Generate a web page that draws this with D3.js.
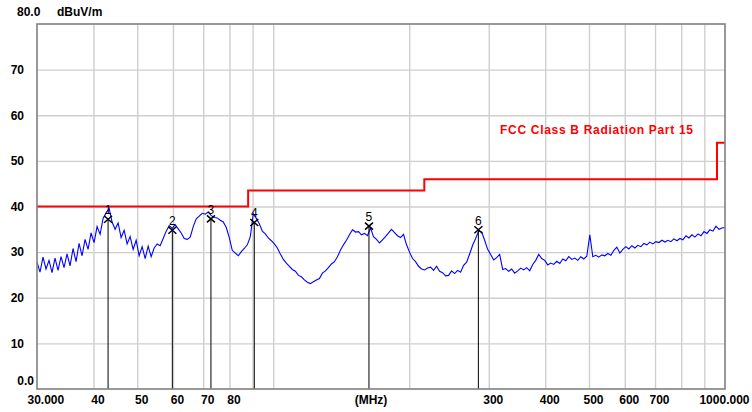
<!DOCTYPE html>
<html>
<head>
<meta charset="utf-8">
<script src="https://cdn.jsdelivr.net/npm/d3@7"></script>
<style>
  body { margin: 0; background: #fff; }
  svg { display: block; font-family: "Liberation Sans", Arial, sans-serif; }
</style>
</head>
<body>
<div id="chart"></div>
<script>
// sweep settings (MHz), points are log spaced by the receiver
const sweepStart = 30;
const sweepStop = 1000;
const levels = [
  27.8, 25.6, 28.9, 26.3, 28.2, 25.5, 28.7, 26.0, 29.0, 26.6,
  29.6, 27.0, 30.8, 27.9, 31.9, 29.2, 32.8, 30.6, 34.2, 32.1,
  35.6, 33.9, 37.4, 38.6, 39.6, 36.6, 35.0, 36.4, 33.2, 34.8,
  31.8, 33.4, 30.6, 32.6, 29.2, 31.2, 28.6, 31.3, 29.0, 30.9,
  31.8, 31.4, 33.0, 34.6, 35.8, 35.2, 36.0, 35.1, 34.2, 33.0,
  32.8, 33.3, 35.6, 37.3, 37.9, 38.5, 38.3, 38.8, 38.0, 37.6,
  37.5, 37.0, 36.6, 35.4, 33.2, 30.4, 29.8, 29.2, 30.1, 30.8,
  31.6, 33.4, 38.4, 37.4, 36.2, 34.6, 34.0, 33.1, 32.5, 31.8,
  30.9, 29.6, 28.4, 27.6, 26.9, 26.2, 25.8, 24.9, 24.6, 23.9,
  23.4, 23.1, 23.5, 23.9, 24.2, 25.4, 25.9, 26.6, 27.4, 27.9,
  29.0, 30.4, 31.6, 32.6, 33.8, 34.9, 34.4, 34.5, 33.8, 34.1,
  33.6, 35.3, 33.4, 32.8, 32.0, 32.7, 33.4, 34.2, 35.0, 34.3,
  33.6, 33.2, 33.9, 31.6, 30.0, 28.6, 27.9, 26.9, 26.3, 26.1,
  26.5, 26.7, 26.0, 26.9, 25.8, 25.5, 24.8, 24.9, 25.9, 25.3,
  26.0, 25.6, 27.1, 27.8, 29.6, 31.5, 33.0, 34.6, 34.4, 32.6,
  30.6, 29.5, 28.3, 28.8, 29.5, 26.2, 26.4, 25.8, 26.3, 25.4,
  25.9, 26.5, 26.1, 26.6, 25.9, 27.3, 28.2, 29.5, 28.6, 28.2,
  27.2, 27.6, 27.3, 28.0, 27.5, 28.5, 28.1, 29.0, 28.4, 28.7,
  28.2, 29.0, 28.5, 29.1, 33.8, 29.0, 29.3, 28.9, 29.4, 29.2,
  29.7, 29.3, 30.4, 31.1, 29.8, 30.6, 31.2, 30.7, 31.4, 30.9,
  31.5, 31.2, 31.9, 31.6, 32.2, 31.8, 32.3, 32.1, 32.6, 32.2,
  32.6, 32.3, 32.9, 32.5, 33.0, 32.7, 33.6, 33.1, 33.8, 33.3,
  34.0, 33.6, 34.5, 34.1, 34.9, 34.6, 35.7, 35.0, 35.3, 35.4
];

// FCC class B limit (step corners)
const limitFreqs = [30, 88, 88, 216, 216, 960, 960, 1000];
const limitLevels = [40, 40, 43.5, 43.5, 46, 46, 54, 54];
const limitName = "FCC Class B Radiation Part 15";

// peak markers
const markerIds = ["1", "2", "3", "4", "5", "6"];
const markerFreqs = [43.1, 59.8, 72.8, 90.8, 162.9, 284.5];
const markerLevels = [37.2, 34.8, 37.3, 36.5, 35.7, 34.9];

const xLabelTicks = [30, 40, 50, 60, 70, 80, 300, 400, 500, 600, 700, 1000];
const xGridTicks = [40, 50, 60, 70, 80, 90, 100, 200, 300, 400, 500, 600, 700, 800, 900];
const yTicks = [10, 20, 30, 40, 50, 60, 70];
const yTop = 80;

const margin = { top: 24, right: 27, bottom: 23, left: 37 };
const W = 752, H = 412;
const width = W - margin.left - margin.right;
const height = H - margin.top - margin.bottom;

const svg = d3
  .select("#chart")
  .append("svg")
  .attr("width", W)
  .attr("height", H);

const x = d3.scaleLog().domain([sweepStart, sweepStop]).range([margin.left, margin.left + width]);
const y = d3.scaleLinear().domain([0, yTop]).range([margin.top + height, margin.top]);

// grid
svg
  .append("g")
  .attr("transform", `translate(0,${margin.top + height})`)
  .call(d3.axisBottom(x).tickValues(xGridTicks).tickSize(-height).tickFormat(""))
  .call((g) => g.select(".domain").remove())
  .selectAll("line")
  .attr("stroke", "#cfcfcf")
  .attr("stroke-width", 1.4);

svg
  .append("g")
  .attr("transform", `translate(${margin.left},0)`)
  .call(d3.axisLeft(y).tickValues(yTicks).tickSize(-width).tickFormat(""))
  .call((g) => g.select(".domain").remove())
  .selectAll("line")
  .attr("stroke", "#cfcfcf")
  .attr("stroke-width", 1.4);

// limit line
const limitData = limitFreqs.map((f, i) => ({ f: f, v: limitLevels[i] }));
svg
  .append("path")
  .datum(limitData)
  .attr("fill", "none")
  .attr("stroke", "#ff0000")
  .attr("stroke-width", 2)
  .attr("d", d3.line().x((d) => x(d.f)).y((d) => y(d.v)));

svg
  .append("text")
  .attr("x", 500)
  .attr("y", 134)
  .attr("fill", "#ff0000")
  .style("font-size", "12px")
  .style("font-weight", "bold")
  .style("letter-spacing", "0.7px")
  .text(limitName);

// trace
const ratio = sweepStop / sweepStart;
const trace = levels.map((v, i) => ({
  f: sweepStart * Math.pow(ratio, i / (levels.length - 1)),
  v: v,
}));
svg
  .append("path")
  .datum(trace)
  .attr("fill", "none")
  .attr("stroke", "#0000ff")
  .attr("stroke-width", 1.1)
  .attr("d", d3.line().x((d) => x(d.f)).y((d) => y(d.v)));

// markers
const markers = markerIds.map((id, i) => ({ id: id, f: markerFreqs[i], v: markerLevels[i] }));
const mk = svg.append("g").selectAll("g").data(markers).join("g");

mk.append("line")
  .attr("x1", (d) => x(d.f))
  .attr("x2", (d) => x(d.f))
  .attr("y1", (d) => y(d.v))
  .attr("y2", y(0))
  .attr("stroke", "#000")
  .attr("stroke-width", 1);

mk.append("path")
  .attr("d", (d) => {
    const cx = x(d.f), cy = y(d.v);
    return `M${cx - 4},${cy - 3.5}L${cx + 4},${cy + 3.5}M${cx - 4},${cy + 3.5}L${cx + 4},${cy - 3.5}`;
  })
  .attr("stroke", "#000")
  .attr("stroke-width", 1.5)
  .attr("fill", "none");

mk.append("text")
  .attr("x", (d) => x(d.f))
  .attr("y", (d) => y(d.v) - 5)
  .attr("text-anchor", "middle")
  .style("font-size", "12px")
  .text((d) => d.id);

// frame
svg
  .append("rect")
  .attr("x", margin.left)
  .attr("y", margin.top)
  .attr("width", width)
  .attr("height", height)
  .attr("fill", "none")
  .attr("stroke", "#808080")
  .attr("stroke-width", 1.6);

// axis labels
const labelFont = (sel) =>
  sel.style("font-size", "12px").style("font-weight", "bold").attr("fill", "#000");

const xAxis = svg
  .append("g")
  .attr("transform", `translate(0,${margin.top + height})`)
  .call(
    d3
      .axisBottom(x)
      .tickValues(xLabelTicks)
      .tickSize(0)
      .tickPadding(6)
      .tickFormat((d) => (d === 30 ? "30.000" : d === 1000 ? "1000.000" : d))
  );
xAxis.select(".domain").remove();
xAxis.selectAll("text").call(labelFont).attr("dx", 4);
xAxis
  .selectAll("text")
  .filter((d) => d === 30)
  .attr("text-anchor", "start")
  .attr("dx", -10);
xAxis
  .selectAll("text")
  .filter((d) => d === 1000)
  .attr("text-anchor", "end")
  .attr("dx", 24);

svg
  .append("text")
  .attr("x", 371)
  .attr("y", margin.top + height + 14.5)
  .attr("text-anchor", "middle")
  .call(labelFont)
  .text("(MHz)");

const yAxis = svg
  .append("g")
  .attr("transform", `translate(${margin.left},0)`)
  .call(d3.axisLeft(y).tickValues(yTicks).tickSize(0).tickPadding(13));
yAxis.select(".domain").remove();
yAxis.selectAll("text").call(labelFont);

svg
  .append("text")
  .attr("x", 34)
  .attr("y", y(0) - 4)
  .attr("text-anchor", "end")
  .call(labelFont)
  .text("0.0");

svg
  .append("text")
  .attr("x", 17)
  .attr("y", y(yTop) - 8)
  .call(labelFont)
  .text(yTop.toFixed(1));

svg
  .append("text")
  .attr("x", 57)
  .attr("y", y(yTop) - 8)
  .call(labelFont)
  .text("dBuV/m");
</script>
</body>
</html>
